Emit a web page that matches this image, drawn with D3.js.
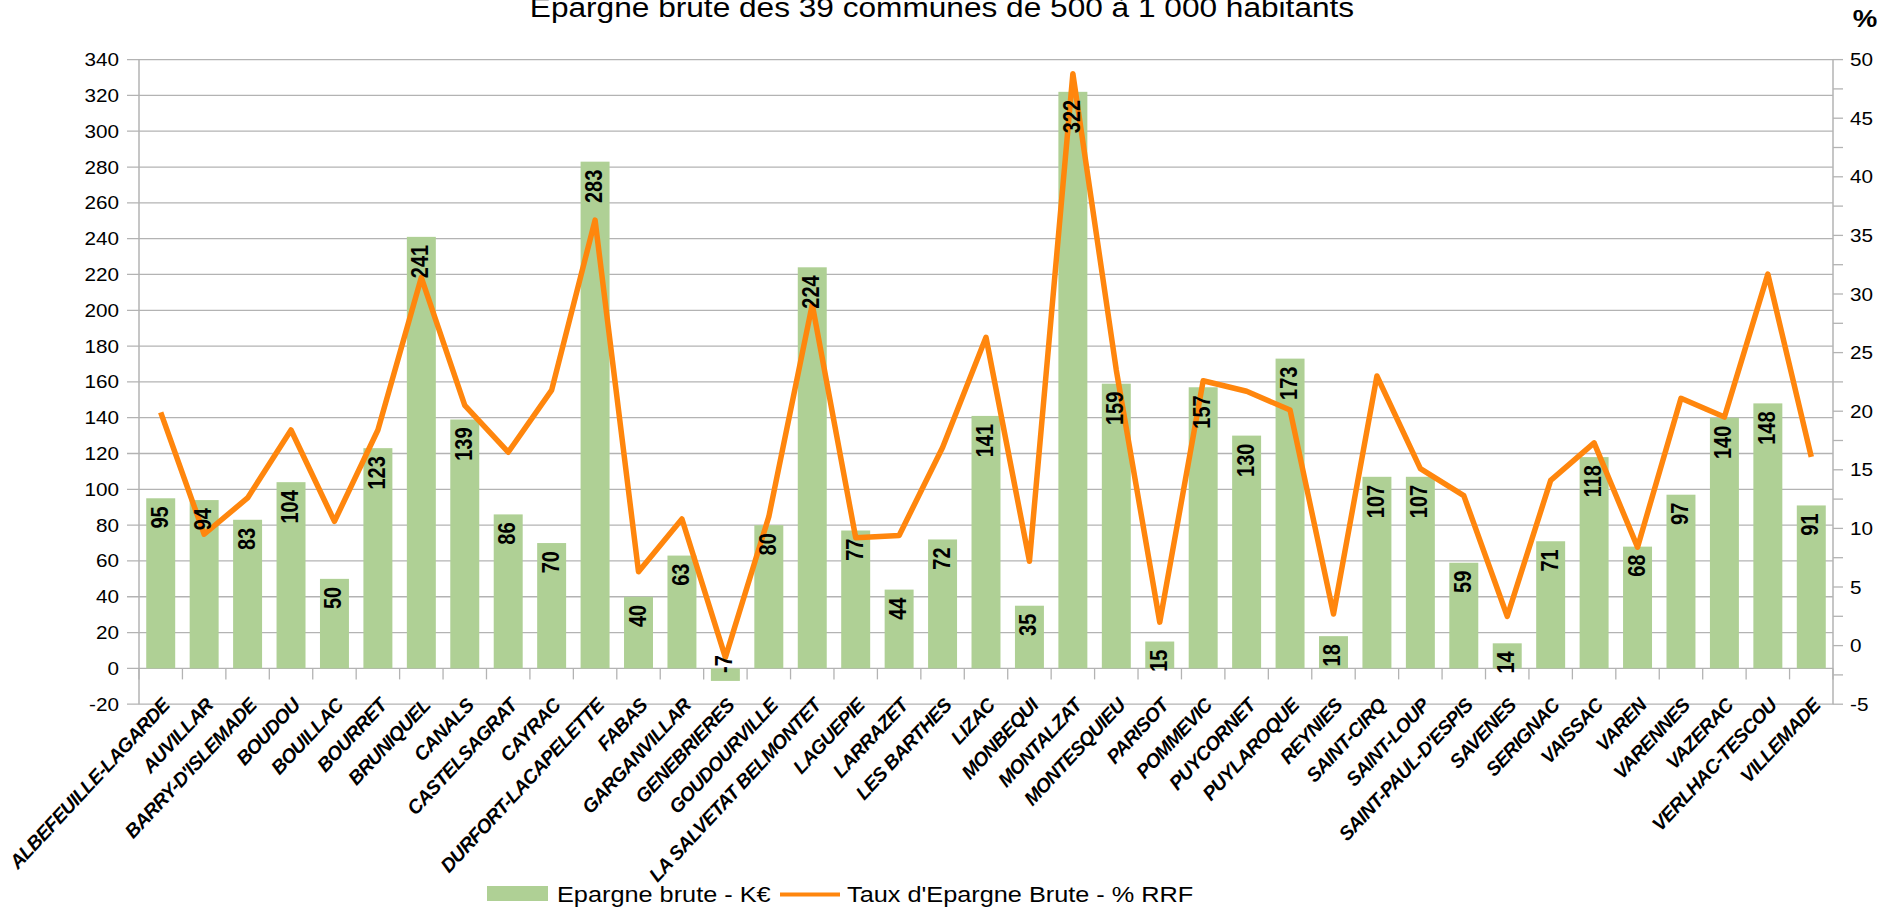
<!DOCTYPE html>
<html><head><meta charset="utf-8">
<script src="https://cdn.jsdelivr.net/npm/d3@7/dist/d3.min.js"></script>
<style>
html,body{margin:0;padding:0;background:#fff;}
svg{display:block;font-family:"Liberation Sans",Arial,sans-serif;}
</style></head>
<body><svg id="c" width="1900" height="910"></svg>
<script>
const titleText = "Epargne brute des 39 communes de 500 à 1 000 habitants";
const communes = ["ALBEFEUILLE-LAGARDE","AUVILLAR","BARRY-D'ISLEMADE","BOUDOU","BOUILLAC","BOURRET","BRUNIQUEL","CANALS","CASTELSAGRAT","CAYRAC","DURFORT-LACAPELETTE","FABAS","GARGANVILLAR","GENEBRIERES","GOUDOURVILLE","LA SALVETAT BELMONTET","LAGUEPIE","LARRAZET","LES BARTHES","LIZAC","MONBEQUI","MONTALZAT","MONTESQUIEU","PARISOT","POMMEVIC","PUYCORNET","PUYLAROQUE","REYNIES","SAINT-CIRQ","SAINT-LOUP","SAINT-PAUL-D'ESPIS","SAVENES","SERIGNAC","VAISSAC","VAREN","VARENNES","VAZERAC","VERLHAC-TESCOU","VILLEMADE"];
const epargne = [95,94,83,104,50,123,241,139,86,70,283,40,63,-7,80,224,77,44,72,141,35,322,159,15,157,130,173,18,107,107,59,14,71,118,68,97,140,148,91];
const taux = [19.9,9.5,12.6,18.4,10.6,18.4,31.4,20.5,16.5,21.8,36.3,6.3,10.8,-1.0,11.0,29.1,9.2,9.4,16.9,26.3,7.2,48.8,23.5,2.0,22.6,21.7,20.1,2.7,23.0,15.1,12.8,2.5,14.1,17.3,8.4,21.1,19.5,31.7,16.1];
const leftTicks = d3.range(-20, 341, 20);
const rightTicks = d3.range(-5, 51, 5);
const rightMinor = d3.range(-5, 50.1, 2.5);
const seriesNames = ["Epargne brute - K€", "Taux d'Epargne Brute - % RRF"];

const SX = 1.15; // horizontal text stretch
const barColor = "#afd095", lineColor = "#ff860d", gridColor = "#b3b3b3";
const X0 = 139, X1 = 1833, YT = 59.6, YB = 704.2;

const svg = d3.select("#c");
const x = d3.scaleBand().domain(communes).range([X0, X1]).paddingInner(0.333).paddingOuter(0.1665);
const xb = d3.scaleBand().domain(communes).range([X0, X1]);
const yL = d3.scaleLinear().domain([-20, 340]).range([YB, YT]);
const yR = d3.scaleLinear().domain([-5, 50]).range([YB, YT]);

function stext(g, tx, ty, extra, sx) {
  return g.append("text").attr("transform", `translate(${tx},${ty}) scale(${sx || SX},1)` + (extra || ""));
}

// grid
svg.append("g").selectAll("line").data(leftTicks).join("line")
  .attr("x1", X0 - 12).attr("x2", X1).attr("y1", d => yL(d)).attr("y2", d => yL(d))
  .attr("stroke", gridColor).attr("stroke-width", 1.3);

// bars
svg.append("g").selectAll("rect").data(communes).join("rect")
  .attr("x", d => x(d)).attr("width", x.bandwidth())
  .attr("y", (d, i) => Math.min(yL(epargne[i]), yL(0)))
  .attr("height", (d, i) => Math.abs(yL(epargne[i]) - yL(0)))
  .attr("fill", barColor);

// axes lines
svg.append("line").attr("x1", X0).attr("x2", X0).attr("y1", YT).attr("y2", YB).attr("stroke", gridColor).attr("stroke-width", 1.5);
svg.append("line").attr("x1", X1).attr("x2", X1).attr("y1", YT).attr("y2", YB).attr("stroke", gridColor).attr("stroke-width", 1.5);
// x ticks at band boundaries on zero line
const bounds = communes.map(d => xb(d)).concat([X1]);
svg.append("g").selectAll("line").data(bounds).join("line")
  .attr("x1", d => d).attr("x2", d => d).attr("y1", yL(0)).attr("y2", yL(0) + 11)
  .attr("stroke", gridColor).attr("stroke-width", 1.3);
// right ticks
svg.append("g").selectAll("line").data(rightMinor).join("line")
  .attr("x1", X1).attr("x2", X1 + 10).attr("y1", d => yR(d)).attr("y2", d => yR(d))
  .attr("stroke", gridColor).attr("stroke-width", 1.3);

// left labels
const gl = svg.append("g").attr("font-size", 18).attr("fill", "#000");
leftTicks.forEach(t => stext(gl, 119, yL(t) + 6.5).attr("text-anchor", "end").text(t));
const gr = svg.append("g").attr("font-size", 18).attr("fill", "#000");
rightTicks.forEach(t => stext(gr, 1850, yR(t) + 6.5).attr("text-anchor", "start").text(t));

// line
const line = d3.line().x((d, i) => xb(communes[i]) + xb.bandwidth() / 2).y(d => yR(d));
svg.append("path").datum(taux).attr("d", line).attr("fill", "none")
  .attr("stroke", lineColor).attr("stroke-width", 5.5).attr("stroke-linejoin", "round").attr("stroke-linecap", "butt");

// bar labels
const gbl = svg.append("g").attr("font-size", 20).attr("font-weight", "bold").attr("fill", "#000");
communes.forEach((c, i) => {
  const v = epargne[i];
  const cx = x(c) + x.bandwidth() / 2 + 7;
  const yy = v >= 0 ? yL(v) + 8 : yL(v) - 8;
  stext(gbl, cx, yy, " rotate(-90)").attr("text-anchor", v >= 0 ? "end" : "start").text(v);
});

// x labels
const gx = svg.append("g").attr("font-size", 19.5).attr("font-weight", "bold").attr("font-style", "italic")
  .attr("letter-spacing", -0.7).attr("fill", "#000");
communes.forEach(c => {
  const cx = xb(c) + xb.bandwidth() / 2;
  stext(gx, cx + 10, YB + 2, " rotate(-47)", 1).attr("text-anchor", "end").text(c);
});

// title
stext(svg, 942, 17).attr("text-anchor", "middle").attr("font-size", 27.5).attr("fill", "#000").text(titleText);
stext(svg, 1865, 27).attr("text-anchor", "middle").attr("font-size", 24).attr("font-weight", "bold").text("%");

// legend
svg.append("rect").attr("x", 487).attr("y", 886).attr("width", 61).attr("height", 15).attr("fill", barColor);
stext(svg, 557, 902).attr("font-size", 22).text(seriesNames[0]);
svg.append("line").attr("x1", 780).attr("x2", 840).attr("y1", 894.5).attr("y2", 894.5).attr("stroke", lineColor).attr("stroke-width", 4);
stext(svg, 847, 902).attr("font-size", 22).text(seriesNames[1]);
</script></body></html>
